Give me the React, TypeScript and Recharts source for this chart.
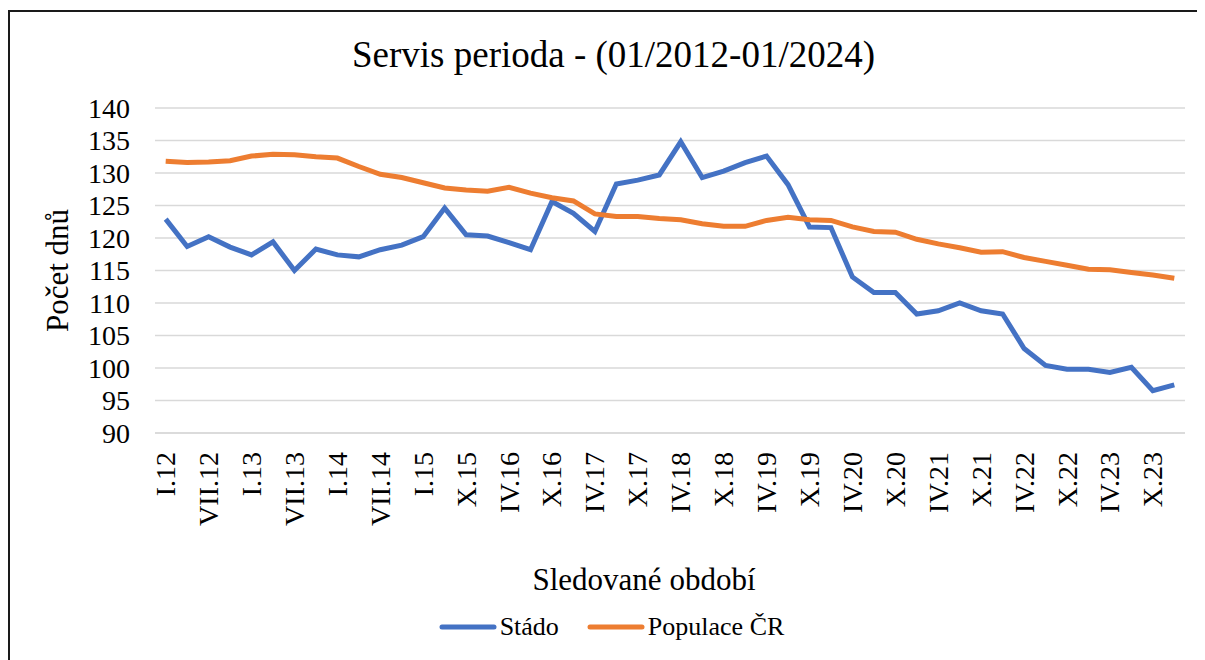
import { LineChart, Line, XAxis, YAxis, CartesianGrid, Legend } from "recharts";

const periods = [
  "I.12", "IV.12", "VII.12", "X.12", "I.13", "IV.13", "VII.13", "X.13",
  "I.14", "IV.14", "VII.14", "X.14", "I.15", "VII.15", "X.15", "I.16",
  "IV.16", "VII.16", "X.16", "I.17", "IV.17", "VII.17", "X.17", "I.18",
  "IV.18", "VII.18", "X.18", "I.19", "IV.19", "VII.19", "X.19", "I.20",
  "IV.20", "VII.20", "X.20", "I.21", "IV.21", "VII.21", "X.21", "I.22",
  "IV.22", "VII.22", "X.22", "I.23", "IV.23", "VII.23", "X.23", "I.24",
];

const stado = [
  122.9, 118.7, 120.2, 118.6, 117.4, 119.4, 115.0, 118.3,
  117.4, 117.1, 118.2, 118.9, 120.2, 124.6, 120.5, 120.3,
  119.3, 118.2, 125.6, 123.8, 121.0, 128.3, 128.9, 129.7,
  134.8, 129.3, 130.3, 131.6, 132.6, 128.2, 121.7, 121.6,
  114.0, 111.6, 111.6, 108.3, 108.8, 110.0, 108.8, 108.3,
  103.0, 100.4, 99.8, 99.8, 99.3, 100.1, 96.5, 97.4,
];

const populace = [
  131.8, 131.6, 131.7, 131.9, 132.6, 132.9, 132.8, 132.5,
  132.3, 131.0, 129.8, 129.3, 128.5, 127.7, 127.4, 127.2,
  127.8, 126.9, 126.2, 125.7, 123.7, 123.3, 123.3, 123.0,
  122.8, 122.2, 121.8, 121.8, 122.7, 123.2, 122.8, 122.7,
  121.7, 121.0, 120.9, 119.8, 119.1, 118.5, 117.8, 117.9,
  117.0, 116.4, 115.8, 115.2, 115.1, 114.7, 114.3, 113.8,
];

const yTicks = [90, 95, 100, 105, 110, 115, 120, 125, 130, 135, 140];

const data = periods.map((p, i) => ({
  period: p,
  stado: stado[i],
  populace: populace[i],
}));

const BLUE = "#4472C4";
const ORANGE = "#ED7D31";
const FONT = "'Liberation Serif', 'Times New Roman', serif";

function RotatedTick(props: any) {
  const { x, y, payload } = props;
  return (
    <text
      x={x}
      y={y + 17}
      transform={`rotate(-90, ${x}, ${y + 17})`}
      textAnchor="end"
      dominantBaseline="central"
      fontSize={28}
      fontFamily={FONT}
      fill="#000"
    >
      {payload.value}
    </text>
  );
}

function LegendContent() {
  const items = [
    { name: "Stádo", color: BLUE },
    { name: "Populace ČR", color: ORANGE },
  ];
  return (
    <div style={{ display: "flex", justifyContent: "center", alignItems: "center", paddingLeft: 28, fontFamily: FONT }}>
      {items.map((it, i) => (
        <div key={it.name} style={{ display: "flex", alignItems: "center", marginLeft: i ? 28 : 0 }}>
          <svg width={58} height={10}>
            <line x1={3} y1={5} x2={55} y2={5} stroke={it.color} strokeWidth={5} strokeLinecap="round" />
          </svg>
          <span style={{ fontSize: 26, marginLeft: 3, color: "#000", fontFamily: FONT }}>{it.name}</span>
        </div>
      ))}
    </div>
  );
}

export default function App() {
  return (
    <div
      style={{
        position: "relative",
        width: 1195,
        height: 648,
        marginTop: 2,
        borderTop: "2px solid #1a1a1a",
        borderLeft: "2px solid #1a1a1a",
        fontFamily: FONT,
        background: "#fff",
      }}
    >
      <div
        style={{
          position: "absolute",
          left: 0,
          top: 24,
          width: 1195,
          textAlign: "center",
          fontSize: 37,
          lineHeight: "37px",
          color: "#000",
          paddingLeft: 12,
          boxSizing: "border-box",
          fontFamily: FONT,
        }}
      >
        Servis perioda - (01/2012-01/2024)
      </div>
      <LineChart
        width={1195}
        height={648}
        data={data}
        margin={{ top: 96, right: 20, bottom: 8, left: 0 }}
        style={{ fontFamily: FONT }}
      >
        <CartesianGrid vertical={false} stroke="#d9d9d9" strokeWidth={1.5} />
        <XAxis
          dataKey="period"
          interval={1}
          height={179}
          padding={{ left: 10.7, right: 10.7 }}
          tickLine={false}
          tickSize={0}
          axisLine={{ stroke: "#d9d9d9", strokeWidth: 1.5 }}
          tick={<RotatedTick />}
          label={{
            value: "Sledované období",
            position: "insideBottom",
            offset: 22,
            dx: -26,
            fontSize: 31,
            fontFamily: FONT,
            fill: "#000",
          }}
        />
        <YAxis
          domain={[90, 140]}
          ticks={yTicks}
          interval={0}
          width={145}
          axisLine={false}
          tickLine={false}
          tickSize={0}
          tickMargin={25}
          tick={{ fontSize: 28, fill: "#000", fontFamily: FONT }}
          label={{
            value: "Počet dnů",
            angle: -90,
            position: "insideLeft",
            offset: 0,
            dx: 47,
            fontSize: 31,
            fontFamily: FONT,
            fill: "#000",
            style: { textAnchor: "middle" },
          }}
        />
        <Legend verticalAlign="bottom" height={40} content={<LegendContent />} />
        <Line
          type="linear"
          dataKey="stado"
          name="Stádo"
          stroke={BLUE}
          strokeWidth={5}
          dot={false}
          isAnimationActive={false}
        />
        <Line
          type="linear"
          dataKey="populace"
          name="Populace ČR"
          stroke={ORANGE}
          strokeWidth={5}
          dot={false}
          isAnimationActive={false}
        />
      </LineChart>
    </div>
  );
}
